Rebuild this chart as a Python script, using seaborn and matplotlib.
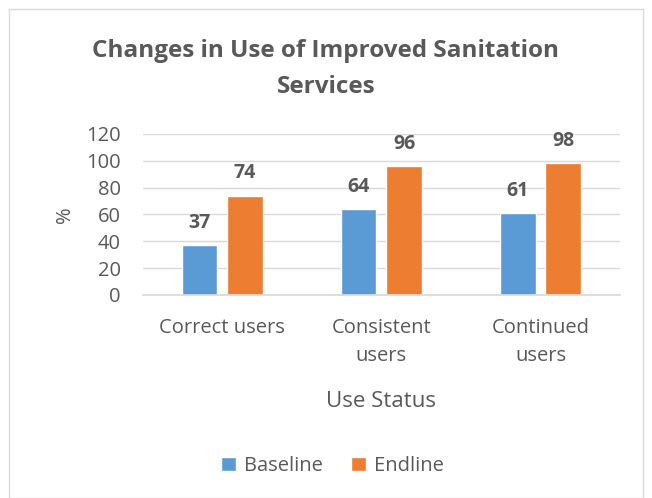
import pandas as pd
import seaborn as sns
import matplotlib.pyplot as plt
from matplotlib.patches import Rectangle

categories = ['Correct users', 'Consistent\nusers', 'Continued\nusers']
baseline = [37, 64, 61]
endline = [74, 96, 98]
series = ['Baseline', 'Endline']

df = pd.DataFrame({
    'status': categories * 2,
    'value': baseline + endline,
    'series': [series[0]] * 3 + [series[1]] * 3,
})

sns.set_theme(style='white')
plt.rcParams['font.family'] = ['Open Sans', 'DejaVu Sans']
grey = '#595959'

fig = plt.figure(figsize=(6.52, 4.98), dpi=100)
ax = fig.add_axes([0.219, 0.408, 0.732, 0.323])

sns.barplot(data=df, x='status', y='value', hue='series',
            palette=['#5B9BD5', '#ED7D31'], width=0.57, gap=0.22,
            saturation=1, ax=ax, legend=True)

for c in ax.containers:
    ax.bar_label(c, padding=9, fontsize=14, fontweight='bold', color=grey)

ax.set_ylim(0, 120)
ax.set_yticks(range(0, 121, 20))
ax.yaxis.grid(True, color='#D9D9D9', lw=1)
ax.set_axisbelow(True)
for s in ['top', 'right', 'left']:
    ax.spines[s].set_visible(False)
ax.spines['bottom'].set_color('#D9D9D9')
ax.tick_params(axis='both', colors=grey, labelsize=14.5, length=0)
ax.tick_params(axis='y', pad=16)
ax.tick_params(axis='x', pad=17)
for t in ax.get_xticklabels():
    t.set_linespacing(1.5)
ax.set_ylabel('%', fontsize=14.5, color=grey, labelpad=8)
ax.set_xlabel('Use Status', fontsize=16, color=grey, labelpad=18)

fig.text(0.5, 0.862, 'Changes in Use of Improved Sanitation\nServices',
         ha='center', va='center', fontsize=17.5, fontweight='bold',
         color=grey, linespacing=1.65)

ax.legend(loc='center', bbox_to_anchor=(0.51, 0.064), bbox_transform=fig.transFigure,
          ncol=2, frameon=False, fontsize=14.5, labelcolor=grey,
          handlelength=0.75, handleheight=0.75, handletextpad=0.4, columnspacing=1.4)

fig.patches.append(Rectangle((9 / 652, 0), 634 / 652, 489 / 498, transform=fig.transFigure,
                             fill=False, edgecolor='#D9D9D9', lw=1))

fig.savefig('out.png', dpi=100, facecolor='white')
